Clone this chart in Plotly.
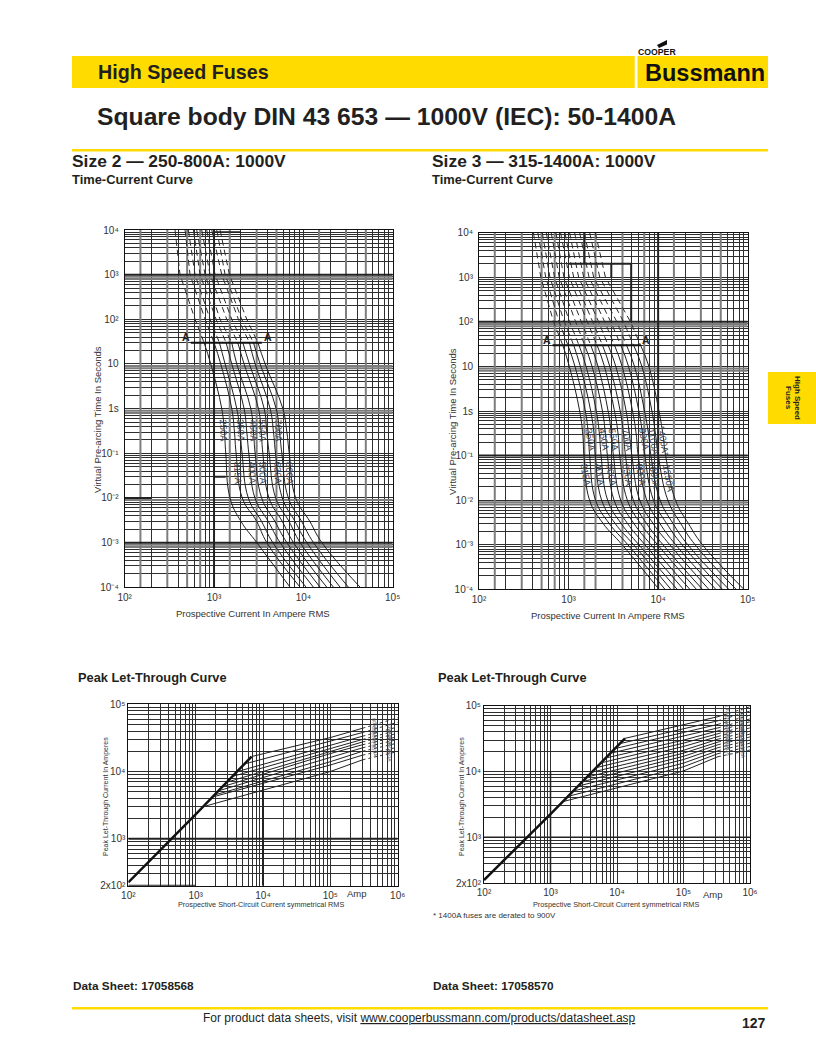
import numpy as np
import plotly.graph_objects as go

W, H = 816, 1056
FONT = "Liberation Sans"
INK = "#231f20"
YEL = "#FFDB00"
GRID = "#2e2e2e"

# ---- time anchors shared by the time-current curves (seconds)
T = [1e4, 1e3, 100, 30, 10, 1, 0.3, 0.1, 0.01, 3e-3, 1e-3, 1e-4]

# ---- Size 2 melting curves: current (A) at each time anchor
s2_250 = [366, 416, 613, 774, 919, 1220, 1307, 1353, 1510, 2000, 3012, 7116]
s2_315 = [474, 539, 794, 1000, 1189, 1580, 1693, 1766, 2070, 3000, 3898, 9210]
s2_350 = [516, 613, 903, 1149, 1330, 1797, 1959, 2060, 2420, 3400, 4550, 10750]
s2_400 = [588, 698, 1055, 1365, 1580, 2170, 2327, 2450, 2870, 4040, 5498, 12990]
s2_450 = [640, 794, 1169, 1580, 1797, 2580, 2763, 2885, 3410, 4800, 6530, 15430]
s2_500 = [728, 903, 1389, 1844, 2170, 3144, 3370, 3520, 4120, 5800, 7755, 18330]
s2_550 = [829, 1027, 1580, 2100, 2490, 3640, 3898, 4140, 4900, 6900, 9210, 21770]
s2_630 = [943, 1220, 1876, 2490, 2885, 4248, 4630, 4880, 5810, 8050, 10940, 25850]
s2_700 = [1073, 1330, 2040, 2763, 3282, 4960, 5405, 5740, 6790, 9550, 12990, 32040]
s2_800 = [1169, 1487, 2327, 3100, 3730, 5890, 6530, 6950, 8200, 11800, 16100, 43300]
size2_curves = [s2_250, s2_315, s2_350, s2_400, s2_450, s2_500, s2_550, s2_630, s2_700, s2_800]

# ---- Size 3 melting curves
s3_315 = [405, 490, 680, 862, 1020, 1330, 1440, 1487, 1715, 2430, 3965, 10210]
s3_350 = [454, 556, 782, 984, 1179, 1539, 1663, 1720, 2000, 2840, 4590, 11920]
s3_400 = [509, 619, 896, 1140, 1353, 1766, 1925, 1990, 2340, 3310, 5320, 13870]
s3_450 = [564, 698, 1027, 1307, 1568, 2040, 2212, 2308, 2730, 3860, 6090, 16300]
s3_500 = [640, 786, 1200, 1513, 1828, 2390, 2580, 2715, 3220, 4550, 7116, 19150]
s3_550 = [722, 888, 1389, 1766, 2135, 2763, 3012, 3170, 3820, 5360, 8310, 22600]
s3_630 = [815, 1020, 1620, 2080, 2515, 3255, 3577, 3730, 4530, 6360, 9850, 26750]
s3_700 = [910, 1140, 1860, 2390, 2885, 3770, 4110, 4320, 5290, 7420, 11320, 31230]
s3_800 = [1027, 1296, 2170, 2763, 3370, 4390, 4780, 5090, 6230, 8780, 13480, 36770]
s3_900 = [1169, 1475, 2536, 3255, 3965, 5180, 5690, 5992, 7470, 10450, 15700, 44000]
s3_1000 = [1330, 1693, 2957, 3830, 4670, 6090, 6710, 7116, 8860, 12430, 18480, 52300]
s3_1100 = [1500, 1908, 3460, 4430, 5450, 7050, 7820, 8310, 10520, 14650, 21410, 61500]
s3_1250 = [1720, 2230, 4110, 5320, 6590, 8520, 9350, 10040, 12830, 17860, 25850, 74300]
s3_1400 = [1990, 2580, 4920, 6360, 7890, 10210, 11310, 12130, 15600, 21770, 31230, 90700]
size3_curves = [s3_315, s3_350, s3_400, s3_450, s3_500, s3_550, s3_630, s3_700, s3_800,
                s3_900, s3_1000, s3_1100, s3_1250, s3_1400]

# ---- curve labels on the time-current charts: (text, amps, seconds)
s2_labels = [("250A", 1274, 0.32), ("350A", 1990, 0.32), ("450A", 2763, 0.32), ("550A", 3470, 0.32),
             ("700A", 5260, 0.32), ("315A", 1876, 0.036), ("400A", 2710, 0.036), ("500A", 3577, 0.036),
             ("630A", 5260, 0.036), ("800A", 7116, 0.036)]
s3_labels = [("350A", 1750, 0.224), ("450A", 2470, 0.224), ("550A", 3180, 0.224), ("700A", 4520, 0.224),
             ("900A", 6950, 0.224), ("1100A", 8980, 0.2), ("1400A*", 11600, 0.21), ("315A", 1539, 0.0367),
             ("400A", 2212, 0.0367), ("500A", 2985, 0.0367), ("630A", 4520, 0.0367), ("800A", 6360, 0.0367),
             ("1000A", 8980, 0.0367), ("1250A", 13000, 0.03)]

# ---- A-A limit lines
s2_aa_x, s2_aa_t = [550, 3430], [30, 30]
s3_aa_x, s3_aa_t = [662, 6360], [30, 30]

# ---- Peak let-through, Size 2 (A)
p2_ratings = ["250A", "315A", "350A", "400A", "450A", "500A", "550A", "630A", "700A", "800A"]
p2_diag_x = [100, 1000, 6770]
p2_diag_y = [224, 2300, 16700]
p2_knee_x = [1300, 1820, 1950, 2250, 2600, 3000, 3600, 4200, 5400, 6770]
p2_knee_y = [3000, 4200, 4500, 5200, 6000, 7000, 8500, 10000, 13000, 16700]
p2_at_1e5 = [10000, 12500, 14000, 16500, 18500, 20000, 22000, 25000, 28000, 32000]
p2_at_3e5 = [14900, 17500, 20000, 22500, 25000, 27500, 30000, 33500, 38000, 44000]
p2_at_1e6 = [19800, 23000, 26500, 30000, 33000, 37000, 41000, 46000, 54000, 63000]

# ---- Peak let-through, Size 3 (A)
p3_ratings = ["315A", "350A", "400A", "450A", "500A", "550A", "630A", "700A", "800A", "900A",
              "1000A", "1100A", "1250A", "1400A"]
p3_diag_x = [100, 1000, 13200]
p3_diag_y = [224, 2250, 31900]
p3_knee_x = [1560, 1850, 2200, 2600, 3000, 3500, 4100, 4800, 5700, 6700, 7900, 9300, 11000, 13200]
p3_knee_y = [3500, 4200, 5050, 6000, 7000, 8200, 9700, 11400, 13500, 16000, 18900, 22300, 26500, 31900]
p3_at_1e5 = [10200, 11800, 13400, 15200, 17000, 19000, 21000, 24000, 27000, 30000, 34000, 38500, 44000, 50800]
p3_at_3e5 = [16800, 18700, 20700, 23000, 25500, 28000, 31000, 34000, 37500, 41500, 46000, 52000, 59000, 68100]
p3_at_1e6 = [21200, 24000, 27000, 30000, 33500, 37000, 41000, 46000, 51000, 57000, 63000, 72000, 83000, 96600]

# ---- gridlines
tc_x_grid = [m * 10 ** d for d in (2, 3, 4) for m in (1, 1.5, 2, 3, 4, 5, 6, 7, 8, 9)] + [1e5]
tc_y_grid = [m * 10.0 ** d for d in range(-4, 4) for m in range(1, 10)] + [1e4]
pk_x_grid = [m * 10 ** d for d in (2, 3, 4, 5) for m in range(1, 10)] + [1e6]
pk_y_grid = [m * 10 ** d for d in (2, 3, 4) for m in range(1, 10) if m * 10 ** d >= 200] + [1e5]

tc_x_labels = {100: "10²", 1000: "10³", 10000: "10⁴", 100000: "10⁵"}
tc_y_labels = {1e4: "10⁴", 1e3: "10³", 100: "10²", 10: "10", 1: "1s",
               0.1: "10⁻¹", 0.01: "10⁻²", 1e-3: "10⁻³", 1e-4: "10⁻⁴"}
pk_x_labels = {100: "10²", 1000: "10³", 10000: "10⁴", 100000: "10⁵", 1000000: "10⁶"}
pk_y_labels = {200: "2x10²", 1000: "10³", 10000: "10⁴", 100000: "10⁵"}

# ---- emphasised gridlines (printed heavier or greyer in the original)
s2_gray_y = [900, 800, 9, 8, 0.9, 0.8, 0.009, 0.0009, 0.0008]
s3_gray_y = [90, 80, 9, 8, 0.009, 0.008]
s2_gray_x = [150, 300, 500, 700, 1500, 3000, 5000, 15000, 30000, 50000]
s3_gray_x = [150, 300, 500, 700, 1500, 2000, 4000, 7000, 15000, 30000, 50000]


def fx(x):
    return x / W


def fy(y):
    return 1 - y / H


fig = go.Figure()
annotations = []
shapes = []


def txt(x, y, s, size, bold=False, anchor="left", angle=0, color=INK, family=FONT):
    annotations.append(dict(
        x=fx(x), y=fy(y), xref="paper", yref="paper", text=f"<b>{s}</b>" if bold else s,
        showarrow=False, xanchor=anchor, yanchor="middle", textangle=angle,
        font=dict(size=size, family=family, color=color), borderpad=0, borderwidth=0))


def rect(x0, y0, x1, y1, color):
    shapes.append(dict(type="rect", xref="paper", yref="paper", x0=fx(x0), x1=fx(x1), y0=fy(y0), y1=fy(y1),
                       fillcolor=color, line=dict(width=0), layer="below"))


def line(xs, ys, ax, color="#222222", width=1.0, dash=None, spline=False):
    fig.add_trace(go.Scatter(
        x=xs, y=ys, mode="lines", xaxis=f"x{ax}", yaxis=f"y{ax}", hoverinfo="skip", showlegend=False,
        line=dict(color=color, width=width, dash=dash, shape="spline" if spline else "linear", smoothing=1.2)))


def data_label(ax, s, x, y, size, angle, color="#3a4250", bold=False):
    annotations.append(dict(
        x=float(np.log10(x)), y=float(np.log10(y)), xref=f"x{ax}", yref=f"y{ax}",
        text=f"<b>{s}</b>" if bold else s, showarrow=False, textangle=angle,
        font=dict(size=size, family=FONT, color=color)))


def set_axes(ax, px, py, xr, yr, xg, yg, xl, yl, xlen, ylen):
    tf = dict(size=10, family=FONT, color="#333333")
    xa = dict(type="log", range=xr, domain=[fx(px[0]), fx(px[1])], anchor=f"y{ax}", automargin=False,
              tickmode="array", tickvals=list(xl), ticktext=list(xl.values()),
              minor=dict(tickmode="array", tickvals=xg, showgrid=True, gridcolor=GRID, gridwidth=1, ticks=""),
              showgrid=True, gridcolor=GRID, gridwidth=1, zeroline=False,
              showline=True, linecolor="#111111", linewidth=1, mirror=True,
              ticks="outside", ticklen=xlen, tickcolor="rgba(0,0,0,0)", tickfont=tf, tickangle=0)
    ya = dict(type="log", range=yr, domain=[fy(py[1]), fy(py[0])], anchor=f"x{ax}", automargin=False,
              tickmode="array", tickvals=list(yl), ticktext=list(yl.values()),
              minor=dict(tickmode="array", tickvals=yg, showgrid=True, gridcolor=GRID, gridwidth=1, ticks=""),
              showgrid=True, gridcolor=GRID, gridwidth=1, zeroline=False,
              showline=True, linecolor="#111111", linewidth=1, mirror=True,
              ticks="outside", ticklen=ylen, tickcolor="rgba(0,0,0,0)", tickfont=tf)
    fig.layout[f"xaxis{ax if ax > 1 else ''}"] = xa
    fig.layout[f"yaxis{ax if ax > 1 else ''}"] = ya


# ---- axes
set_axes(1, (124.7, 392.7), (230, 587.3), [2, 5], [-4, 4], tc_x_grid, tc_y_grid, tc_x_labels, tc_y_labels, 1, 3)
set_axes(2, (479, 747.7), (232.7, 589.3), [2, 5], [-4, 4], tc_x_grid, tc_y_grid, tc_x_labels, tc_y_labels, 1, 3)
set_axes(3, (128.3, 397.7), (704.3, 885.7), [2, 6], [float(np.log10(200)), 5], pk_x_grid, pk_y_grid, pk_x_labels, pk_y_labels, 0, 0)
set_axes(4, (484, 750), (705.7, 883.3), [2, 6], [float(np.log10(200)), 5], pk_x_grid, pk_y_grid, pk_x_labels, pk_y_labels, 0, 0)

# ---- emphasised grid, chart 1
for v in s2_gray_y:
    line([100, 1e5], [v, v], 1, "#7d7d7d", 2)
for v in s2_gray_x:
    line([v, v], [1e-4, 1e4], 1, "#7d7d7d", 2)
for v in [1e3, 1e-3]:
    line([100, 1e5], [v, v], 1, "#222222", 2)
line([1000, 1000], [1e-4, 1e4], 1, "#222222", 2)
line([100, 200], [0.01, 0.01], 1, "#222222", 2)
line([1000, 1350], [0.03, 0.03], 1, "#222222", 2)
line([1000, 2000], [9000, 9000], 1, "#222222", 1.6)

# ---- emphasised grid, chart 2
for v in s3_gray_y:
    line([100, 1e5], [v, v], 2, "#7d7d7d", 2)
for v in s3_gray_x:
    line([v, v], [1e-4, 1e4], 2, "#7d7d7d", 2)
for v in [100, 0.1]:
    line([100, 1e5], [v, v], 2, "#222222", 2)
line([10000, 10000], [1e-4, 1e4], 2, "#222222", 2)
line([1000, 5000], [2000, 2000], 2, "#222222", 2)
line([3000, 3000], [1000, 2000], 2, "#222222", 2)
line([5000, 5000], [100, 2000], 2, "#222222", 2)
line([1500, 1500], [2000, 1e4], 2, "#222222", 2)

# ---- emphasised grid, peak charts
line([100, 1e6], [1000, 1000], 3, "#222222", 2)
line([1e4, 1e4], [200, 1e4], 3, "#222222", 2)
line([100, 1000], [200, 200], 3, "#222222", 2)
line([100, 1e6], [1000, 1000], 4, "#222222", 1.5)
line([1000, 1000], [200, 1e4], 4, "#222222", 1.5)

# ---- time-current curves
for c in size2_curves:
    line(c[:4], T[:4], 1, "#2a2a2a", 1, dash="6px,4px")
    line(c[3:], T[3:], 1, "#1f1f1f", 1, spline=True)
for c in size3_curves:
    line(c[:4], T[:4], 2, "#2a2a2a", 1, dash="6px,4px")
    line(c[3:], T[3:], 2, "#1f1f1f", 1, spline=True)
line(s2_aa_x, s2_aa_t, 1, "#111111", 2)
line(s3_aa_x, s3_aa_t, 2, "#111111", 2)

# ---- peak let-through curves
line(p2_diag_x, p2_diag_y, 3, "#111111", 2.5)
for i in range(len(p2_knee_x)):
    line([p2_knee_x[i], 1e5, 3e5], [p2_knee_y[i], p2_at_1e5[i], p2_at_3e5[i]], 3, "#222222", 1)
    line([3e5, 1e6], [p2_at_3e5[i], p2_at_1e6[i]], 3, "#333333", 1, dash="3px,3px")
line(p3_diag_x, p3_diag_y, 4, "#111111", 2.5)
for i in range(len(p3_knee_x)):
    line([p3_knee_x[i], 1e5, 3.3e5], [p3_knee_y[i], p3_at_1e5[i], p3_at_3e5[i]], 4, "#222222", 1)
    line([3.3e5, 1e6], [p3_at_3e5[i], p3_at_1e6[i]], 4, "#333333", 1, dash="3px,3px")

# ---- labels on the curves
for s, x, y in s2_labels:
    data_label(1, s, x, y, 9.5, 88)
for s, x, y in s3_labels:
    data_label(2, s, x, y, 9.5, 80)
data_label(1, "A", 482, 39.5, 10.5, 0, INK, True)
data_label(1, "A", 4060, 39.5, 10.5, 0, INK, True)
data_label(2, "A", 572, 39, 10.5, 0, INK, True)
data_label(2, "A", 7380, 39, 10.5, 0, INK, True)
for i, s in enumerate(p2_ratings):
    data_label(3, s, 4.6e5 if i % 2 else 7.6e5, p2_at_3e5[i] * 1.16, 5, 80, "#4a5260")
for i, s in enumerate(p3_ratings):
    data_label(4, s, 4.6e5 if i % 2 else 7.6e5, p3_at_3e5[i] * 1.16, 5, 80, "#4a5260")

# ---- page furniture
rect(72, 56, 634.7, 88, YEL)
rect(637.5, 56, 768, 88, YEL)
rect(72, 149, 768, 151.5, YEL)
rect(72, 1007, 768, 1009.5, YEL)
rect(768, 372, 816, 424, YEL)
shapes.append(dict(type="path", xref="paper", yref="paper", layer="above", fillcolor="#111111", line=dict(width=0),
                   path=f"M {fx(657)} {fy(45)} L {fx(667)} {fy(40)} L {fx(667)} {fy(44.5)} L {fx(659)} {fy(48)} Z"))

txt(98, 72, "High Speed Fuses", 19.7, True)
txt(97, 116, "Square body DIN 43 653 — 1000V (IEC): 50-1400A", 24.7, True)
txt(72, 161, "Size 2 — 250-800A: 1000V", 17.4, True)
txt(432, 161, "Size 3 — 315-1400A: 1000V", 17.4, True)
txt(72, 180, "Time-Current Curve", 12.9, True)
txt(432, 180, "Time-Current Curve", 12.9, True)
txt(78, 677, "Peak Let-Through Curve", 12.8, True)
txt(438, 677, "Peak Let-Through Curve", 12.8, True)
txt(73, 986, "Data Sheet: 17058568", 11.8, True)
txt(433, 986, "Data Sheet: 17058570", 11.8, True)
txt(203, 1018, "For product data sheets, visit <u>www.cooperbussmann.com/products/datasheet.asp</u>", 12)
txt(766, 1023, "127", 14, True, anchor="right")
txt(433, 915, "* 1400A fuses are derated to 900V", 8, color="#333333")
txt(638, 52, "COOPER", 8.7, True, color="#111111")
txt(645, 73, "Bussmann", 23.5, True, color="#111111")
txt(798, 398, "High Speed", 8, True, anchor="center", angle=90)
txt(789, 398, "Fuses", 8, True, anchor="center", angle=90)
txt(356.7, 893, "Amp", 9.5, anchor="center", color="#333333")
txt(712.7, 894, "Amp", 9.5, anchor="center", color="#333333")

# ---- axis titles
txt(253, 613, "Prospective Current In Ampere RMS", 9.5, anchor="center", color="#333333")
txt(608, 615.5, "Prospective Current In Ampere RMS", 9.5, anchor="center", color="#333333")
txt(97, 420, "Virtual Pre-arcing Time In Seconds", 9.5, anchor="center", angle=-90, color="#333333")
txt(452, 422, "Virtual Pre-arcing Time In Seconds", 9.5, anchor="center", angle=-90, color="#333333")
txt(261, 904, "Prospective Short-Circuit Current symmetrical RMS", 7.3, anchor="center", color="#333333")
txt(616, 904, "Prospective Short-Circuit Current symmetrical RMS", 7.3, anchor="center", color="#333333")
txt(106, 797, "Peak Let-Through Current In Amperes", 7, anchor="center", angle=-90, color="#333333")
txt(462, 797, "Peak Let-Through Current In Amperes", 7, anchor="center", angle=-90, color="#333333")

fig.update_layout(width=W, height=H, margin=dict(l=0, r=0, t=0, b=0, pad=0), autosize=False,
                  paper_bgcolor="white", plot_bgcolor="white", showlegend=False,
                  annotations=annotations, shapes=shapes, font=dict(family=FONT))
fig.write_html("out.html", config={"displayModeBar": False, "responsive": False},
               post_script="document.body.style.margin='0';document.documentElement.style.overflow='hidden';")
